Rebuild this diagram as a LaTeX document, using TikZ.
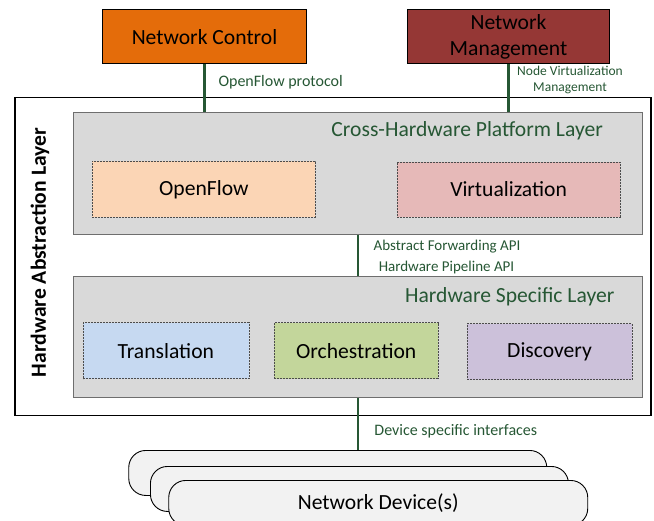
\documentclass[tikz,border=0pt]{standalone}
\usepackage{fontspec}
\setmainfont{Carlito}
\definecolor{ncorange}{HTML}{E46C0A}
\definecolor{nmred}{HTML}{953735}
\definecolor{layergray}{HTML}{D9D9D9}
\definecolor{layerline}{HTML}{6E6E6E}
\definecolor{ofpeach}{HTML}{FBD5B5}
\definecolor{virtpink}{HTML}{E6B9B8}
\definecolor{transblue}{HTML}{C6D9F1}
\definecolor{orchgreen}{HTML}{C3D69B}
\definecolor{discpurple}{HTML}{CCC1DA}
\definecolor{devgray}{HTML}{F2F2F2}
\definecolor{linkgreen}{HTML}{265734}
\newcommand{\bigtext}{\fontsize{21.6}{26.4}\selectfont}
\tikzset{
  corner/.style={anchor=north west, inner sep=0pt, minimum width=#1},
  topbox/.style={draw=black, line width=1pt, text=black, font=\bigtext, align=center},
  layerbox/.style={draw=layerline, fill=layergray, line width=1pt},
  modbox/.style={draw=black!70, line width=0.7pt, dash pattern=on 2pt off 1pt, font=\bigtext},
  devbox/.style={draw=black, fill=devgray, line width=0.9pt, rounded corners=17pt, font=\bigtext},
  link/.style={draw=linkgreen, line width=2.5pt},
  linklabel/.style={text=linkgreen, inner sep=0pt},
  layertitle/.style={text=linkgreen, font=\bigtext, inner sep=0pt, anchor=east}
}
\begin{document}
\begin{tikzpicture}[x=1pt, y=-1pt]
  \useasboundingbox (0,0) rectangle (654,520);
  \clip (0,0) rectangle (654,520);

  % controllers on top
  \node[topbox, corner=204pt, minimum height=54.3pt, fill=ncorange] (nc) at (102,9) {Network Control};
  \node[topbox, corner=202pt, minimum height=54.3pt, fill=nmred] (nm) at (407,9) {Network\\Management};

  % hardware abstraction layer frame
  \node[corner=636pt, minimum height=318pt, draw=black, line width=1.6pt, fill=white] (hal) at (14,96.5) {};
  \node[rotate=90, font=\bfseries\bigtext, inner sep=0pt] (haltitle) at (40,252.5) {Hardware Abstraction Layer};

  % cross-hardware platform layer
  \node[layerbox, corner=569pt, minimum height=122pt] (chp) at (73,112) {};
  \node[layertitle] (chptitle) at (603,131) {Cross-Hardware Platform Layer};
  \node[modbox, corner=223pt, minimum height=56pt, fill=ofpeach] (of) at (92,161) {OpenFlow};
  \node[modbox, corner=222.5pt, minimum height=55pt, fill=virtpink] (virt) at (397,161.5) {Virtualization};

  % hardware specific layer
  \node[layerbox, corner=569pt, minimum height=121pt] (hs) at (73,276) {};
  \node[layertitle] (hstitle) at (614.5,297) {Hardware Specific Layer};
  \node[modbox, corner=166pt, minimum height=56pt, fill=transblue] (trans) at (82.5,322.3) {Translation};
  \node[modbox, corner=163.7pt, minimum height=56pt, fill=orchgreen] (orch) at (274,322.3) {Orchestration};
  \node[modbox, corner=165pt, minimum height=56pt, fill=discpurple] (disc) at (466.7,323.3) {Discovery};

  % stacked network devices
  \node[devbox, corner=418pt, minimum height=45pt] (dev1) at (128.3,450) {};
  \node[devbox, corner=418pt, minimum height=45pt] (dev2) at (150,466) {};
  \node[devbox, corner=419pt, minimum height=45pt] (dev3) at (168.3,480) {Network Device(s)};

  % interfaces between the parts
  \draw[link] (nc.south) -- (nc.south |- chp.north);
  \draw[link] (nm.south) -- (nm.south |- chp.north);
  \draw[link] (chp.south) -- (hs.north);
  \draw[link] (hs.south) -- (hs.south |- dev1.north);

  \node[linklabel, font=\fontsize{16}{19}\selectfont] (oflabel) at (280.7,82) {OpenFlow protocol};
  \node[linklabel, align=center, font=\fontsize{13.5}{16}\selectfont] (nvlabel) at (570,80.3) {Node Virtualization\\Management};
  \node[linklabel, font=\fontsize{15}{18}\selectfont] (afapi) at (447,246.7) {Abstract Forwarding API};
  \node[linklabel, font=\fontsize{15}{18}\selectfont] (hpapi) at (446.5,267) {Hardware Pipeline API};
  \node[linklabel, font=\fontsize{16}{19}\selectfont] (devlabel) at (455.8,431.7) {Device specific interfaces};
\end{tikzpicture}
\end{document}
